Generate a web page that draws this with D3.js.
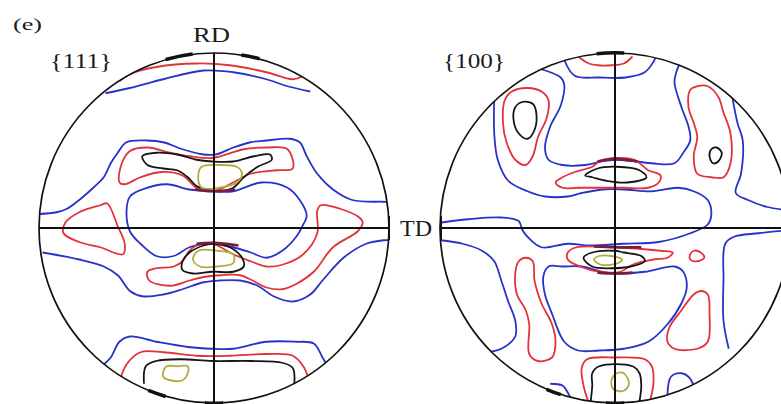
<!DOCTYPE html>
<html>
<head>
<meta charset="utf-8">
<script src="https://cdn.jsdelivr.net/npm/d3@7"></script>
<style>
	body{margin:0;background:#fff;}
	svg{display:block;}
</style>
</head>
<body>
<div id="chart"></div>
<script>
// contour levels, lowest to highest
var levels = [1, 2, 3, 4];

// points are [x, y] in percent of the pole figure radius (x = TD, y = RD)
// ---- {111} ----
var p111_blueRimTop = [[-62,77],[-48,80],[-29,85],[-6,90],[11,89],[30,85],[42,81],[55,78]];
var p111_redRimTop = [[-54,84],[-48,88],[-33,92],[-10,94],[9,93],[30,89],[45,85],[51,87]];
var p111_blueBandUpper = [[-100,8],[-90,9],[-84,11],[-77,16],[-69,23],[-63,29],[-59,37],[-55,43],[-50,49],[-38,50],[-29,49],[-18,45],[-6,42],[1,42],[11,46],[21,49],[30,50],[43,51],[49,49],[53,41],[59,31],[68,22],[79,16],[96,15],[101,15]];
var p111_redUpper = [[-54,26],[-53,36],[-48,44],[-38,46],[-25,43],[-14,41],[-1,40],[17,45],[30,46],[42,45],[45,34],[36,33],[21,31],[11,26],[3,22],[-5,21],[-10,23],[-18,30],[-30,32],[-42,29],[-51,25]];
var p111_blackUpper = [[-41,41],[-33,43],[-21,42],[-10,39],[-1,38],[11,38],[23,41],[32,42],[33,39],[25,35],[17,29],[11,23],[3,21],[-4,22],[-10,24],[-15,29],[-21,33],[-29,34],[-38,36]];
var p111_yellowUpper = [[-9,30],[-7,35],[3,36],[13,35],[16,31],[13,26],[3,23],[-7,23]];
var p111_blueInner = [[-50,9],[-48,18],[-41,22],[-27,25],[-14,22],[-1,21],[11,21],[27,26],[42,23],[49,16],[53,7],[51,2],[47,-5],[39,-13],[30,-17],[21,-14],[11,-11],[-1,-9],[-14,-11],[-23,-16],[-33,-16],[-42,-9],[-48,-2]];
var p111_redLeft = [[-61,14],[-65,13],[-77,9],[-85,3],[-86,-3],[-77,-8],[-65,-11],[-52,-15],[-51,-9],[-55,1]];
var p111_redLower = [[-1,-9],[-8,-9],[-14,-13],[-18,-19],[-23,-22],[-33,-23],[-38,-25],[-37,-30],[-25,-33],[-14,-30],[-6,-28],[3,-27],[15,-27],[22,-30],[30,-34],[39,-35],[47,-32],[57,-25],[68,-11],[82,-2],[85,3],[83,6],[72,11],[61,13],[59,10],[59,-3],[51,-15],[39,-21],[30,-22],[21,-19],[11,-15],[2,-10]];
var p111_blackLower = [[-18,-19],[-14,-14],[-6,-10],[-1,-9],[9,-11],[16,-17],[17,-22],[11,-25],[-1,-25],[-12,-26],[-18,-24]];
var p111_yellowLower = [[-12,-18],[-9,-13],[2,-13],[11,-15],[11,-20],[2,-22],[-8,-22]];
var p111_blueBandLower = [[-98,-14],[-77,-18],[-63,-22],[-55,-27],[-48,-36],[-41,-39],[-29,-38],[-18,-35],[-6,-31],[3,-30],[15,-30],[25,-33],[34,-39],[45,-42],[55,-38],[62,-30],[74,-17],[87,-9],[97,-7],[102,-7]];
var p111_blueRimBottom = [[-63,-78],[-59,-74],[-54,-65],[-48,-62],[-33,-65],[-15,-68],[-1,-69],[11,-69],[30,-65],[47,-65],[57,-66],[62,-74],[65,-79]];
var p111_redRimBottom = [[-54,-88],[-50,-78],[-42,-71],[-29,-71],[-10,-73],[9,-73],[30,-72],[45,-73],[51,-79],[54,-86]];
var p111_blackRimBottom = [[-40,-89],[-39,-79],[-33,-76],[-19,-75],[-1,-76],[21,-76],[39,-77],[45,-80],[46,-87],[45,-93]];
var p111_yellowBottom = [[-29,-82],[-27,-79],[-21,-79],[-15,-79],[-15,-83],[-18,-87],[-25,-87],[-29,-85]];
// angles (deg, clockwise from RD) where the highest level hugs the rim
var p111_rim = [[-16,-7],[9,15],[196,202],[177,183]];
// where several levels overlap into one dark band
var p111_overlap = [[[-11,22],[0,21],[12,22]], [[-10,-9],[0,-8.5],[14,-10]]];

// ---- {100} ----
var p100_redRimTop = [[-21,98],[-15,94],[-10,93],[-2,93],[5,94],[10,98]];
var p100_blueRimTop = [[-29,96],[-23,87],[-9,86],[6,86],[17,89],[22,95],[23,97]];
var p100_blueU = [[-43,91],[-31,86],[-29,82],[-31,70],[-37,58],[-40,46],[-38,39],[-30,36],[-17,36],[-8,38],[0,39],[12,38],[21,37],[34,37],[39,43],[43,50],[42,58],[38,69],[34,83],[35,89],[37,94]];
var p100_blueA = [[-69,74],[-69,54],[-67,39],[-61,27],[-50,21],[-40,18],[-27,18],[-19,20],[-7,22],[5,22],[21,21],[36,23],[45,21],[53,16],[55,7],[53,2],[43,-3],[25,-8],[5,-9],[-14,-10],[-27,-9],[-42,-11],[-50,-5],[-53,-1],[-55,4],[-65,6],[-84,5],[-100,3]];
var p100_blueB = [[67,75],[70,60],[73,50],[72,31],[69,20],[76,16],[87,12],[101,10]];
var p100_blueC = [[101,-1],[82,-3],[68,-5],[63,-9],[62,-30],[62,-53],[65,-69]];
var p100_blueD = [[-38,-22],[-30,-22],[-19,-22],[-7,-25],[0,-26],[17,-25],[34,-22],[39,-25],[41,-34],[38,-43],[30,-55],[19,-65],[5,-69],[-9,-70],[-21,-70],[-29,-65],[-36,-49],[-40,-38],[-41,-28]];
var p100_blueE = [[-100,-7],[-87,-9],[-76,-13],[-69,-19],[-65,-30],[-61,-42],[-57,-53],[-57,-62],[-65,-69],[-74,-71]];
var p100_blueRimLeft = [[-37,-89],[-30,-90],[-27,-94],[-25,-98]];
var p100_blueRimRight = [[30,-95],[32,-85],[38,-83],[42,-85],[45,-90]];
var p100_redLeftLoop = [[-63,73],[-64,60],[-62,49],[-57,39],[-51,36],[-47,41],[-44,52],[-39,63],[-38,73],[-42,78],[-50,80],[-59,78]];
var p100_blackLeftLoop = [[-57,69],[-58,62],[-55,54],[-50,51],[-46,56],[-45,66],[-47,71],[-53,72]];
var p100_redRightLoop = [[43,79],[42,69],[45,60],[47,52],[45,41],[47,31],[55,29],[62,29],[66,37],[66,54],[62,66],[59,75],[53,81],[47,81]];
var p100_blackRightLoop = [[55,45],[58,46],[61,43],[59,38],[56,37],[54,41]];
var p100_redCenterUpper = [[-34,26],[-30,29],[-23,32],[-13,35],[-9,38],[0,40],[11,39],[19,33],[26,30],[25,26],[19,23],[5,23],[-7,23],[-21,23],[-30,23]];
var p100_blackCenterUpper = [[-17,30],[-10,34],[1,35],[14,33],[18,29],[7,26],[-5,27],[-13,29]];
var p100_redCenterLower = [[-27,-14],[-22,-11],[-1,-11],[26,-13],[33,-14],[30,-17],[22,-18],[10,-21],[3,-25],[-9,-25],[-20,-22],[-27,-18]];
var p100_blackCenterLower = [[-18,-17],[-13,-14],[0,-13],[5,-14],[15,-16],[17,-19],[9,-22],[-2,-23],[-13,-22]];
var p100_yellowCenterLower = [[-12,-18],[-9,-16],[-2,-16],[4,-18],[2,-20],[-8,-21]];
var p100_redSmall = [[43,-15],[45,-13],[49,-14],[51,-17],[47,-19],[43,-18]];
var p100_redLeftLower = [[-55,-19],[-57,-26],[-56,-38],[-51,-47],[-49,-55],[-49,-72],[-44,-76],[-36,-74],[-34,-65],[-36,-55],[-42,-43],[-46,-30],[-47,-19],[-51,-17]];
var p100_redRightLower = [[49,-36],[53,-38],[54,-49],[53,-65],[47,-69],[34,-69],[30,-65],[31,-57],[38,-47],[45,-38]];
var p100_redRimBottom = [[-15,-100],[-18,-90],[-19,-80],[-16,-75],[0,-74],[17,-75],[21,-79],[22,-88],[20,-99]];
var p100_blackRimBottom = [[-14,-100],[-13,-90],[-13,-83],[-9,-79],[10,-79],[14,-83],[15,-90],[14,-99]];
var p100_yellowBottom = [[-2,-87],[1,-83],[5,-83],[8,-89],[5,-93],[-1,-92]];
var p100_rim = [[-6,3],[198,203],[177,183]];
var p100_overlap = [[[-10,38],[0,39.5],[13,38]], [[-12,-10.5],[0,-11],[15,-11]], [[-10,-25.5],[0,-26],[10,-25.5]]];

// labels
var figLabel = "(e)";
var planes = ["{111}", "{100}"];
var axisNames = ["RD", "TD"];

// contour tables built from the arrays above: [level, closed, points]
var contours111 = [
	[1,false,p111_blueRimTop],[2,false,p111_redRimTop],[1,false,p111_blueBandUpper],
	[2,true,p111_redUpper],[3,true,p111_blackUpper],[4,true,p111_yellowUpper],
	[1,true,p111_blueInner],[2,true,p111_redLeft],[2,true,p111_redLower],
	[3,true,p111_blackLower],[4,true,p111_yellowLower],[1,false,p111_blueBandLower],
	[1,false,p111_blueRimBottom],[2,false,p111_redRimBottom],[3,false,p111_blackRimBottom],
	[4,true,p111_yellowBottom]
];
var contours100 = [
	[2,false,p100_redRimTop],[1,false,p100_blueRimTop],[1,false,p100_blueU],
	[1,false,p100_blueA],[1,false,p100_blueB],[1,false,p100_blueC],[1,true,p100_blueD],
	[1,false,p100_blueE],[1,false,p100_blueRimLeft],[1,false,p100_blueRimRight],
	[2,true,p100_redLeftLoop],[3,true,p100_blackLeftLoop],[2,true,p100_redRightLoop],
	[3,true,p100_blackRightLoop],[2,true,p100_redCenterUpper],[3,true,p100_blackCenterUpper],
	[2,true,p100_redCenterLower],[3,true,p100_blackCenterLower],[4,true,p100_yellowCenterLower],
	[2,true,p100_redSmall],[2,true,p100_redLeftLower],[2,true,p100_redRightLower],
	[2,false,p100_redRimBottom],[3,false,p100_blackRimBottom],[4,true,p100_yellowBottom]
];

var width = 781;
var height = 404;
var R = 175;

var levelColor = d3.scaleOrdinal()
					.domain(levels)
					.range(["#2832c8", "#e2323a", "#161616", "#b3ab3c"]);

var svg = d3.select("#chart")
				.append("svg")
				.attr("width", width)
				.attr("height", height)
				.style("font-family", "'Liberation Serif', 'DejaVu Serif', serif");

svg.append("rect")
	.attr("width", width)
	.attr("height", height)
	.attr("fill", "#fff");

var pf1 = drawPoleFigure("pf111", 214, 228, contours111, p111_rim, p111_overlap);
var pf2 = drawPoleFigure("pf100", 615, 228, contours100, p100_rim, p100_overlap);

// TD ticks at the ends of the horizontal axes
svg.append("line")
	.attr("x1", pf1.x(100)).attr("x2", pf1.x(100))
	.attr("y1", pf1.y(0) - 12).attr("y2", pf1.y(0) + 12)
	.attr("stroke", "#111").attr("stroke-width", 2);
svg.append("line")
	.attr("x1", pf2.x(-100) + 1).attr("x2", pf2.x(-100) + 1)
	.attr("y1", pf2.y(0) - 12).attr("y2", pf2.y(0) + 12)
	.attr("stroke", "#111").attr("stroke-width", 2);

addText(figLabel, 13, 30, 17, 29);
addText(axisNames[0], pf1.x(0) - 21, 42, 22, 37);
addText(axisNames[1], 400, 236, 23, 32);
addText(planes[0], 50, 68, 21, 62);
addText(planes[1], 443, 68, 21, 62);


/***************************************************************************************/
function drawPoleFigure(id, cx, cy, contours, rim, overlap){
	var x = d3.scaleLinear().domain([-100, 100]).range([cx - R, cx + R]);
	var y = d3.scaleLinear().domain([-100, 100]).range([cy + R, cy - R]);

	svg.append("clipPath")
		.attr("id", id + "_clip")
		.append("circle")
		.attr("cx", x(0))
		.attr("cy", y(0))
		.attr("r", R);

	var openLine = d3.line()
					.x(function(d){return x(d[0]);})
					.y(function(d){return y(d[1]);})
					.curve(d3.curveCatmullRom.alpha(0.5));
	var closedLine = d3.line()
					.x(function(d){return x(d[0]);})
					.y(function(d){return y(d[1]);})
					.curve(d3.curveCatmullRomClosed.alpha(0.5));

	var g = svg.append("g")
				.attr("clip-path", "url(#" + id + "_clip)");

	g.selectAll("path.contour")
		.data(contours)
		.enter()
		.append("path")
		.attr("class", "contour")
		.attr("d", function(d){return d[1] ? closedLine(d[2]) : openLine(d[2]);})
		.attr("fill", "none")
		.attr("stroke", function(d){return levelColor(d[0]);})
		.attr("stroke-width", 1.8)
		.attr("stroke-linejoin", "round");

	g.selectAll("path.overlap")
		.data(overlap)
		.enter()
		.append("path")
		.attr("class", "overlap")
		.attr("d", openLine)
		.attr("fill", "none")
		.attr("stroke", "#7a1c3c")
		.attr("stroke-width", 2.6)
		.attr("stroke-linecap", "butt");

	// outline
	svg.append("circle")
		.attr("cx", x(0))
		.attr("cy", y(0))
		.attr("r", R)
		.attr("fill", "none")
		.attr("stroke", "#111")
		.attr("stroke-width", 1.7);

	var arc = d3.arc()
				.innerRadius(R - 1.5)
				.outerRadius(R + 2);
	svg.append("g")
		.attr("transform", "translate(" + x(0) + "," + y(0) + ")")
		.selectAll("path")
		.data(rim)
		.enter()
		.append("path")
		.attr("d", function(d){
			return arc({startAngle: d[0] * Math.PI / 180, endAngle: d[1] * Math.PI / 180});
		})
		.attr("fill", "#111");

	// RD and TD axes
	svg.append("line")
		.attr("x1", x(-100)).attr("x2", x(100))
		.attr("y1", y(0)).attr("y2", y(0))
		.attr("stroke", "#111")
		.attr("stroke-width", 2);
	svg.append("line")
		.attr("x1", x(0)).attr("x2", x(0))
		.attr("y1", y(100)).attr("y2", y(-100))
		.attr("stroke", "#111")
		.attr("stroke-width", 2);

	return {x: x, y: y};
};

function addText(t, x, y, size, len){
	svg.append("text")
		.attr("x", x)
		.attr("y", y)
		.attr("textLength", len)
		.attr("lengthAdjust", "spacingAndGlyphs")
		.style("font-size", size + "px")
		.attr("fill", "#1c1c1c")
		.text(t);
};
</script>
</body>
</html>
